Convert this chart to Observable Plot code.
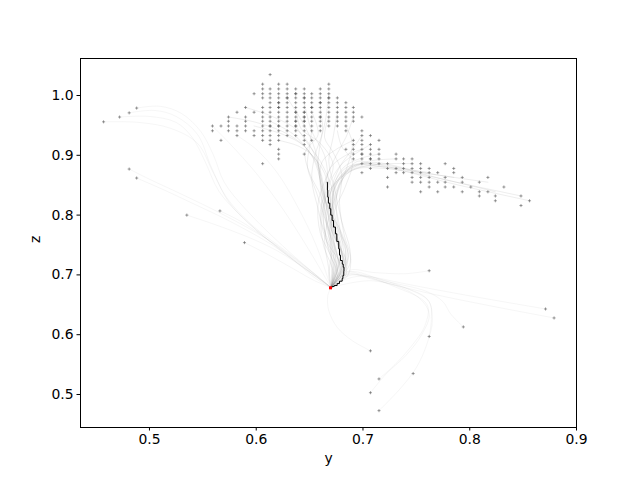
<!DOCTYPE html>
<html><head><meta charset="utf-8">
<script src="https://cdn.jsdelivr.net/npm/d3@7"></script>
<script src="https://cdn.jsdelivr.net/npm/@observablehq/plot@0.6"></script>
<style>body{margin:0;background:#fff}</style>
</head><body><div id="chart"></div>
<script>
// axis ticks
const xTicks = [0.5, 0.6, 0.7, 0.8, 0.9];
const zTicks = [0.5, 0.6, 0.7, 0.8, 0.9, 1.0];

// grid scatter: one z value per row, with the y values present in that row
const rowZ = [1.035, 1.019, 1.011, 1.003, 0.996, 0.988, 0.980, 0.972, 0.964, 0.957, 0.949, 0.941, 0.933, 0.925, 0.918, 0.910, 0.902, 0.894, 0.886, 0.878, 0.871, 0.863, 0.855, 0.847, 0.839, 0.832, 0.824, 0.816];
const rowY = [
  [0.613],
  [0.606, 0.621, 0.629, 0.668],
  [0.606, 0.613, 0.621, 0.629, 0.637, 0.645, 0.660, 0.668],
  [0.598, 0.606, 0.613, 0.621, 0.629, 0.637, 0.645, 0.652, 0.660, 0.668],
  [0.606, 0.613, 0.621, 0.629, 0.637, 0.645, 0.652, 0.660, 0.668, 0.676],
  [0.613, 0.621, 0.629, 0.637, 0.645, 0.652, 0.660, 0.668, 0.676, 0.684],
  [0.590, 0.606, 0.613, 0.621, 0.629, 0.637, 0.645, 0.652, 0.660, 0.668, 0.676, 0.684, 0.691],
  [0.582, 0.598, 0.606, 0.613, 0.621, 0.629, 0.637, 0.645, 0.652, 0.660, 0.668, 0.676, 0.684, 0.691],
  [0.574, 0.590, 0.606, 0.613, 0.621, 0.629, 0.637, 0.645, 0.652, 0.660, 0.668, 0.676, 0.684, 0.691, 0.699],
  [0.574, 0.590, 0.606, 0.613, 0.621, 0.629, 0.637, 0.645, 0.652, 0.660, 0.668, 0.676, 0.684, 0.691],
  [0.559, 0.567, 0.574, 0.582, 0.590, 0.606, 0.613, 0.621, 0.629, 0.637, 0.645, 0.652, 0.660, 0.668, 0.676, 0.684],
  [0.559, 0.574, 0.582, 0.590, 0.598, 0.606, 0.613, 0.621, 0.629, 0.637, 0.645, 0.652, 0.660, 0.684, 0.699],
  [0.582, 0.598, 0.606, 0.613, 0.621, 0.629, 0.637, 0.645, 0.699, 0.707],
  [0.567, 0.606, 0.613, 0.621, 0.645, 0.652, 0.691, 0.699, 0.715],
  [0.613, 0.645, 0.691, 0.699, 0.707],
  [0.621, 0.684, 0.691, 0.699, 0.707, 0.715],
  [0.621, 0.645, 0.691, 0.699, 0.707, 0.715, 0.731],
  [0.621, 0.691, 0.699, 0.707, 0.715, 0.731, 0.738, 0.746],
  [0.606, 0.699, 0.707, 0.715, 0.723, 0.738, 0.746, 0.754, 0.777],
  [0.707, 0.723, 0.731, 0.738, 0.746, 0.754, 0.762, 0.785],
  [0.699, 0.731, 0.738, 0.746, 0.754, 0.762, 0.770, 0.785],
  [0.723, 0.746, 0.754, 0.762, 0.777, 0.793, 0.817],
  [0.746, 0.754, 0.762, 0.770, 0.777, 0.793, 0.809],
  [0.723, 0.762, 0.777, 0.785, 0.801, 0.832],
  [0.754, 0.770, 0.793, 0.809, 0.817],
  [0.809, 0.824, 0.848],
  [0.824, 0.856],
  [0.848]
];
// points where several markers coincide (appear darker)
const denseY = [0.621, 0.621, 0.629, 0.637, 0.637, 0.645, 0.645, 0.645, 0.645, 0.660, 0.668, 0.613, 0.621, 0.637, 0.637, 0.660, 0.699, 0.707, 0.652];
const denseZ = [0.988, 0.980, 0.996, 1.003, 0.972, 0.972, 0.964, 0.957, 0.996, 0.988, 0.996, 0.949, 0.949, 0.957, 0.949, 0.964, 0.902, 0.894, 0.980];
// isolated outlying points
const outY = [0.457, 0.472, 0.481, 0.488, 0.481, 0.488, 0.535, 0.566, 0.589, 0.762, 0.871, 0.879, 0.794, 0.762, 0.707, 0.747, 0.715, 0.707, 0.715];
const outZ = [0.956, 0.964, 0.971, 0.979, 0.877, 0.862, 0.800, 0.807, 0.754, 0.707, 0.643, 0.628, 0.613, 0.597, 0.573, 0.535, 0.526, 0.503, 0.473];

// faint trajectories through the central bundle, each a list of [y, z]
const bundleTrajectories = [
  [[0.629,0.996],[0.645,0.95],[0.655,0.91],[0.660,0.86],[0.662,0.80],[0.668,0.74],[0.676,0.70],[0.670,0.679]],
  [[0.645,0.988],[0.652,0.94],[0.664,0.90],[0.668,0.85],[0.672,0.79],[0.680,0.74],[0.684,0.70],[0.670,0.679]],
  [[0.660,0.980],[0.662,0.94],[0.655,0.90],[0.652,0.86],[0.658,0.81],[0.665,0.76],[0.680,0.71],[0.670,0.679]],
  [[0.676,0.972],[0.672,0.93],[0.668,0.89],[0.674,0.84],[0.680,0.79],[0.688,0.74],[0.686,0.70],[0.670,0.679]],
  [[0.691,0.964],[0.684,0.93],[0.675,0.90],[0.665,0.86],[0.658,0.82],[0.660,0.77],[0.672,0.72],[0.670,0.679]],
  [[0.613,0.957],[0.635,0.935],[0.650,0.905],[0.664,0.87],[0.668,0.82],[0.674,0.77],[0.682,0.72],[0.670,0.679]],
  [[0.637,0.949],[0.648,0.92],[0.660,0.89],[0.670,0.85],[0.676,0.80],[0.681,0.75],[0.683,0.71],[0.670,0.679]],
  [[0.652,0.941],[0.650,0.915],[0.648,0.88],[0.656,0.84],[0.665,0.79],[0.672,0.75],[0.678,0.71],[0.670,0.679]],
  [[0.684,0.949],[0.690,0.92],[0.685,0.88],[0.676,0.84],[0.669,0.80],[0.664,0.76],[0.668,0.71],[0.670,0.679]],
  [[0.699,0.933],[0.690,0.91],[0.678,0.88],[0.670,0.84],[0.671,0.80],[0.678,0.75],[0.685,0.715],[0.670,0.679]],
  [[0.598,0.949],[0.625,0.935],[0.645,0.915],[0.658,0.88],[0.664,0.83],[0.670,0.78],[0.679,0.73],[0.670,0.679]],
  [[0.621,0.925],[0.640,0.915],[0.655,0.895],[0.662,0.86],[0.666,0.81],[0.675,0.76],[0.682,0.715],[0.670,0.679]],
  [[0.707,0.918],[0.695,0.905],[0.680,0.885],[0.668,0.85],[0.663,0.80],[0.667,0.75],[0.676,0.71],[0.670,0.679]],
  [[0.715,0.902],[0.698,0.895],[0.682,0.88],[0.673,0.85],[0.672,0.80],[0.676,0.76],[0.681,0.72],[0.670,0.679]],
  [[0.731,0.894],[0.705,0.89],[0.685,0.875],[0.676,0.84],[0.676,0.79],[0.684,0.74],[0.680,0.70],[0.670,0.679]],
  [[0.746,0.886],[0.715,0.885],[0.690,0.875],[0.670,0.845],[0.661,0.80],[0.663,0.75],[0.672,0.705],[0.670,0.679]],
  [[0.762,0.871],[0.725,0.880],[0.695,0.880],[0.678,0.86],[0.670,0.82],[0.673,0.77],[0.681,0.725],[0.670,0.679]],
  [[0.785,0.863],[0.740,0.875],[0.700,0.885],[0.680,0.865],[0.672,0.83],[0.676,0.78],[0.684,0.73],[0.670,0.679]],
  [[0.817,0.855],[0.760,0.870],[0.705,0.888],[0.682,0.87],[0.668,0.83],[0.666,0.78],[0.675,0.72],[0.670,0.679]],
  [[0.848,0.832],[0.780,0.858],[0.715,0.885],[0.685,0.88],[0.670,0.84],[0.668,0.79],[0.678,0.735],[0.670,0.679]],
  [[0.856,0.824],[0.790,0.850],[0.720,0.880],[0.690,0.882],[0.674,0.85],[0.672,0.80],[0.680,0.74],[0.670,0.679]],
  [[0.590,0.980],[0.615,0.965],[0.640,0.940],[0.655,0.90],[0.662,0.85],[0.666,0.79],[0.676,0.73],[0.670,0.679]],
  [[0.574,0.964],[0.600,0.955],[0.630,0.935],[0.650,0.905],[0.660,0.86],[0.664,0.80],[0.672,0.74],[0.670,0.679]],
  [[0.668,1.003],[0.665,0.96],[0.660,0.92],[0.658,0.88],[0.664,0.83],[0.676,0.78],[0.686,0.73],[0.670,0.679]],
  [[0.707,0.886],[0.695,0.89],[0.684,0.87],[0.675,0.83],[0.670,0.78],[0.670,0.73],[0.668,0.70],[0.670,0.679]],
  [[0.824,0.839],[0.770,0.862],[0.720,0.878],[0.690,0.875],[0.676,0.845],[0.670,0.79],[0.674,0.73],[0.670,0.679]],
  [[0.652,0.972],[0.658,0.935],[0.646,0.905],[0.650,0.87],[0.661,0.83],[0.669,0.77],[0.677,0.72],[0.670,0.679]],
  [[0.676,0.941],[0.680,0.915],[0.690,0.89],[0.684,0.85],[0.674,0.81],[0.668,0.77],[0.674,0.715],[0.670,0.679]],
  [[0.637,0.980],[0.642,0.945],[0.660,0.92],[0.672,0.885],[0.666,0.845],[0.660,0.80],[0.670,0.74],[0.670,0.679]],
  [[0.668,0.964],[0.664,0.93],[0.672,0.905],[0.680,0.87],[0.678,0.82],[0.682,0.77],[0.688,0.72],[0.670,0.679]],
  [[0.691,0.925],[0.675,0.91],[0.662,0.89],[0.660,0.85],[0.668,0.81],[0.680,0.77],[0.686,0.725],[0.670,0.679]],
  [[0.699,0.910],[0.684,0.90],[0.670,0.88],[0.664,0.84],[0.670,0.79],[0.674,0.745],[0.679,0.705],[0.670,0.679]]
];
// faint trajectories arriving from the outlying points
const outerTrajectories = [
  [[0.559,0.949],[0.575,0.92],[0.600,0.87],[0.625,0.81],[0.650,0.74],[0.670,0.679]],
  [[0.582,0.933],[0.600,0.91],[0.620,0.87],[0.640,0.81],[0.656,0.75],[0.670,0.679]],
  [[0.457,0.956],[0.490,0.955],[0.520,0.945],[0.545,0.92],[0.560,0.87],[0.575,0.82],[0.600,0.775],[0.640,0.72],[0.670,0.679]],
  [[0.472,0.964],[0.500,0.965],[0.525,0.955],[0.540,0.93],[0.552,0.89],[0.565,0.84],[0.585,0.80],[0.620,0.745],[0.670,0.679]],
  [[0.481,0.971],[0.505,0.975],[0.525,0.965],[0.545,0.935],[0.558,0.88],[0.572,0.83],[0.595,0.785],[0.635,0.73],[0.670,0.679]],
  [[0.488,0.979],[0.510,0.982],[0.530,0.97],[0.548,0.94],[0.560,0.90],[0.570,0.855],[0.590,0.81],[0.630,0.74],[0.670,0.679]],
  [[0.481,0.877],[0.500,0.86],[0.530,0.835],[0.570,0.80],[0.610,0.76],[0.645,0.715],[0.670,0.679]],
  [[0.488,0.862],[0.510,0.845],[0.540,0.82],[0.575,0.79],[0.615,0.75],[0.650,0.705],[0.670,0.679]],
  [[0.535,0.800],[0.560,0.785],[0.590,0.765],[0.620,0.74],[0.650,0.705],[0.670,0.679]],
  [[0.566,0.807],[0.585,0.79],[0.610,0.76],[0.635,0.725],[0.655,0.695],[0.670,0.679]],
  [[0.589,0.754],[0.610,0.735],[0.635,0.71],[0.655,0.69],[0.670,0.679]],
  [[0.871,0.643],[0.800,0.665],[0.740,0.685],[0.700,0.700],[0.684,0.705],[0.676,0.688],[0.670,0.679]],
  [[0.879,0.628],[0.820,0.648],[0.760,0.670],[0.710,0.692],[0.686,0.702],[0.676,0.686],[0.670,0.679]],
  [[0.762,0.707],[0.740,0.702],[0.710,0.704],[0.688,0.708],[0.678,0.69],[0.670,0.679]],
  [[0.794,0.613],[0.782,0.635],[0.775,0.655],[0.760,0.672],[0.720,0.69],[0.688,0.705],[0.670,0.679]],
  [[0.762,0.597],[0.764,0.625],[0.762,0.655],[0.740,0.678],[0.700,0.698],[0.680,0.69],[0.670,0.679]],
  [[0.715,0.473],[0.735,0.51],[0.750,0.545],[0.760,0.585],[0.765,0.625],[0.760,0.660],[0.720,0.688],[0.685,0.70],[0.670,0.679]],
  [[0.707,0.503],[0.722,0.535],[0.740,0.565],[0.755,0.60],[0.762,0.635],[0.750,0.665],[0.710,0.69],[0.670,0.679]],
  [[0.715,0.526],[0.730,0.55],[0.745,0.58],[0.758,0.615],[0.760,0.65],[0.730,0.68],[0.690,0.70],[0.670,0.679]],
  [[0.707,0.573],[0.690,0.590],[0.676,0.612],[0.668,0.640],[0.667,0.665],[0.670,0.679]]
];

// highlighted trajectory (black) and its end point (red)
const pathY = [0.6665, 0.6667, 0.6670, 0.6676, 0.6689, 0.6698, 0.6711, 0.6724, 0.6742, 0.6755, 0.6773, 0.6780, 0.6789, 0.6806, 0.6815, 0.6822, 0.6820, 0.6812, 0.6805, 0.6780, 0.6758, 0.6730, 0.6711, 0.6696];
const pathZ = [0.855, 0.842, 0.830, 0.820, 0.8106, 0.800, 0.791, 0.780, 0.7687, 0.756, 0.7436, 0.733, 0.7241, 0.718, 0.7129, 0.706, 0.699, 0.694, 0.6895, 0.6855, 0.6823, 0.6805, 0.6794, 0.6784];
const endY = [0.6696];
const endZ = [0.6784];

// tables built from the arrays above
const gridPts = rowZ.flatMap((z, i) => rowY[i].map(y => ({y, z})));
const densePts = denseY.map((y, i) => ({y, z: denseZ[i]}));
const outPts = outY.map((y, i) => ({y, z: outZ[i]}));
const toRows = list => list.flatMap((t, id) => t.map(([y, z]) => ({id, y, z})));
const bundleRows = toRows(bundleTrajectories);
const outerRows = toRows(outerTrajectories);
const pathRows = pathY.map((y, i) => ({y, z: pathZ[i]}));
const endRows = endY.map((y, i) => ({y, z: endZ[i]}));

const plusSymbol = {
  draw(ctx, size) {
    const h = Math.sqrt(size) / 2;
    ctx.moveTo(-h, 0); ctx.lineTo(h, 0);
    ctx.moveTo(0, -h); ctx.lineTo(0, h);
  }
};

const markerOpts = {x: "y", y: "z", symbol: plusSymbol, r: 1.75, fill: "none", stroke: "#555", strokeOpacity: 0.55, strokeWidth: 1};

const chart = Plot.plot({
  width: 640, height: 480,
  marginLeft: 80, marginRight: 64, marginTop: 58, marginBottom: 53,
  style: {fontFamily: "DejaVu Sans", fontSize: "13.9px", color: "black", background: "white"},
  x: {domain: [0.4354, 0.9]},
  y: {domain: [0.4448, 1.0619]},
  marks: [
    Plot.axisX({ticks: xTicks, tickFormat: d3.format(".1f"), tickSize: 3.5, tickPadding: 3.5, label: null}),
    Plot.axisY({ticks: zTicks, tickFormat: d3.format(".1f"), tickSize: 3.5, tickPadding: 3.5, label: null}),
    Plot.line(outerRows, {x: "y", y: "z", z: "id", stroke: "#808080", strokeOpacity: 0.09, strokeWidth: 0.8, curve: "catmull-rom"}),
    Plot.line(bundleRows, {x: "y", y: "z", z: "id", stroke: "#808080", strokeOpacity: 0.15, strokeWidth: 0.9, curve: "catmull-rom"}),
    Plot.dot(gridPts, markerOpts),
    Plot.dot(densePts, markerOpts),
    Plot.dot(outPts, markerOpts),
    Plot.line(pathRows, {x: "y", y: "z", stroke: "black", strokeWidth: 1, curve: "step-after"}),
    Plot.dot(endRows, {x: "y", y: "z", symbol: "square", r: 1.7, fill: "red"}),
    Plot.frame({stroke: "black", strokeWidth: 1}),
    Plot.text(["y"], {text: d => d, frameAnchor: "bottom", dy: 35}),
    Plot.text(["z"], {text: d => d, frameAnchor: "left", dx: -45, rotate: -90})
  ]
});
document.getElementById("chart").appendChild(chart);
</script>
</body></html>
